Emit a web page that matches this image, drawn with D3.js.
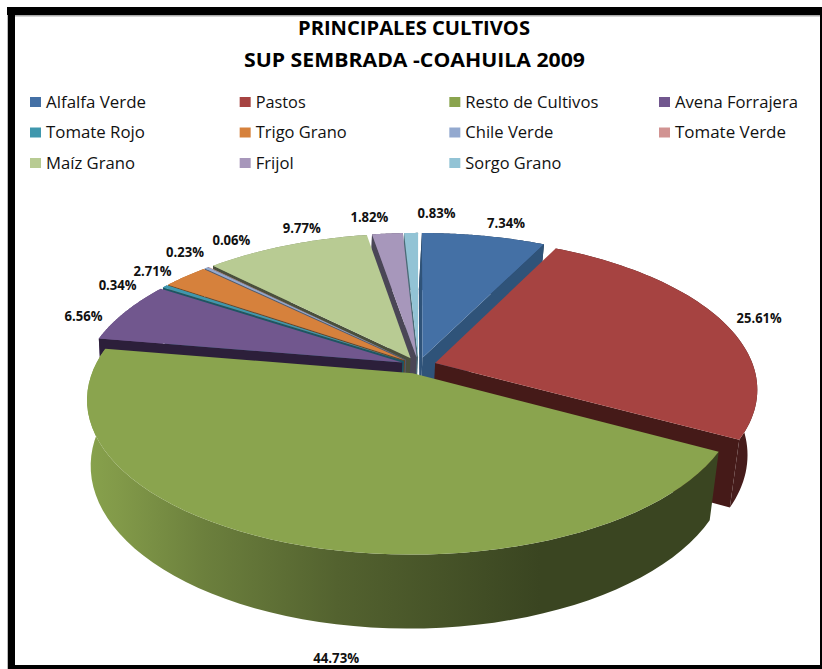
<!DOCTYPE html>
<html><head><meta charset="utf-8">
<script src="https://cdn.jsdelivr.net/npm/d3@7"></script>
<style>html,body{margin:0;padding:0;background:#fff}svg{display:block}</style>
</head><body><div id="chart"></div>
<script>
const titleLines = ["PRINCIPALES CULTIVOS", "SUP SEMBRADA -COAHUILA 2009"];
const categories = ["Alfalfa Verde","Pastos","Resto de Cultivos","Avena Forrajera","Tomate Rojo","Trigo Grano","Chile Verde","Tomate Verde","Maíz Grano","Frijol","Sorgo Grano"];
const shares = [7.34,25.61,44.73,6.56,0.34,2.71,0.23,0.06,9.77,1.82,0.83];
const colors = ["#4470a5","#a64341","#8aa44e","#71578e","#3f97ad","#d6813c","#93a9cf","#d19392","#b8cb93","#a797bb","#92c3d5"];
const wallColors = ["#2f5379","#451a18","#37421d","#2c1f3a","#1d5563","#6e4420","#4d5a70","#555048","#4a4f3c","#4a4656","#4a6a76"];
const labelTextWidths = [38,45,46,38,38,38,38,38,38,38,38];
const legendTextWidths = [100,50,133,123,99,91,88,111,89,38,96];

const W=822,H=669;
const svg=d3.select("#chart").append("svg").attr("width",W).attr("height",H);
const defs=svg.append("defs");
const font="'Open Sans','Noto Sans',sans-serif";

// frame
svg.append("rect").attr("x",7).attr("y",7).attr("width",W-7).attr("height",H-7).attr("fill","#000");
svg.append("rect").attr("x",7).attr("y",15).attr("width",1).attr("height",H-15).attr("fill","#bbb");
svg.append("rect").attr("x",15).attr("y",15).attr("width",805).attr("height",650).attr("fill","#fff");
svg.append("rect").attr("x",15).attr("y",15).attr("width",805).attr("height",1.5).attr("fill","#aaa");

// title
const titleBox=[{cy:28,w:232,cx:414},{cy:60,w:341,cx:414.5}];
svg.selectAll("text.title").data(titleLines).join("text").attr("class","title")
 .attr("x",(d,i)=>titleBox[i].cx).attr("y",(d,i)=>titleBox[i].cy+7).attr("text-anchor","middle")
 .attr("textLength",(d,i)=>titleBox[i].w).attr("lengthAdjust","spacingAndGlyphs")
 .attr("font-family",font).attr("font-weight",700).attr("font-size",20).attr("fill","#000").text(d=>d);

// legend
const colX=d3.scalePoint().domain([0,1,2,3]).range([30,659]);
const rowY=d3.scalePoint().domain([0,1,2]).range([102,163]);
const lg=svg.selectAll("g.lg").data(categories).join("g").attr("class","lg")
 .attr("transform",(d,i)=>`translate(${colX(i%4)},${rowY(Math.floor(i/4))})`);
lg.append("rect").attr("x",0).attr("y",-5).attr("width",11).attr("height",10).attr("fill",(d,i)=>colors[i]);
lg.append("text").attr("x",16).attr("y",5.5).attr("font-family",font).attr("font-size",16).attr("fill","#111")
 .attr("textLength",(d,i)=>legendTextWidths[i]).attr("lengthAdjust","spacingAndGlyphs").text(d=>d);

// perspective model of the 3D pie
const cx=418.5,cy=365.5,B=318,A=148,P=0.168,EXP=0.055,SHRINK=0.98,D=64,SHIFT=-3;
function proj(th,r,bis,bottom){
  const u=r*Math.sin(th)+EXP*Math.sin(bis), v=-r*Math.cos(th)-EXP*Math.cos(bis);
  const w=1/(1-P*v), s=bottom?SHRINK:1;
  return [cx+B*u*w*s+(bottom?SHIFT:0), cy+A*v*w*s+(bottom?D*w:0)];
}
const pie=d3.pie().sort(null).value(d=>d);
const arcs=pie(shares).map((a,i)=>({...a,i,bis:(a.startAngle+a.endAngle)/2}));
const line=d3.line();
const arcPts=(a,bottom)=>d3.range(0,61).map(k=>{const t=a.startAngle+(a.endAngle-a.startAngle)*k/60;return proj(t,1,a.bis,bottom)});

arcs.forEach(a=>{
  const base=d3.rgb(colors[a.i]);
  const g=defs.append("linearGradient").attr("id","g"+a.i).attr("gradientUnits","userSpaceOnUse")
    .attr("x1",90).attr("x2",540).attr("y1",0).attr("y2",0);
  [[0,.98],[0.06,.94],[0.25,.78],[0.55,.6],[1,.42]].forEach(([o,f])=>g.append("stop").attr("offset",o)
    .attr("stop-color",d3.rgb(base.r*f,base.g*f,base.b*f)));
});
const order=arcs.slice().sort((a,b)=>(-Math.cos(a.bis))-(-Math.cos(b.bis)));
const sl=svg.selectAll("g.sl").data(order).join("g").attr("class","sl");
sl.each(function(a){
  const g=d3.select(this);
  const top=arcPts(a,false),bot=arcPts(a,true);
  const c0=proj(0,0,a.bis,false),c1=proj(0,0,a.bis,true);
  g.append("path").attr("d",line(top.concat(bot.slice().reverse()))+"Z").attr("fill",`url(#g${a.i})`);
  // radial walls: keep only the ones that face the viewer
  [[[c0,top[0],bot[0],c1],1],[[c0,top[60],bot[60],c1],-1]].forEach(([q,sign])=>{
    if(d3.polygonArea(q)*sign>0) g.append("path").attr("d",line(q)+"Z").attr("fill",wallColors[a.i]);
  });
  g.append("path").attr("d",line([c0].concat(top))+"Z").attr("fill",colors[a.i]);
});

// labels
const labelR=1.08;
const labelNudge=[[18,-5],[15,0],[62,99],[-21,8],[-30,4],[-17,1],[-7,-9],[37,-21],[24,-10],[-16,-8],[26,-11]];
svg.selectAll("text.val").data(arcs).join("text").attr("class","val")
 .attr("transform",a=>{const p=proj(a.bis,labelR,a.bis,false);return `translate(${p[0]+labelNudge[a.i][0]},${p[1]+labelNudge[a.i][1]+5})`})
 .attr("text-anchor","middle").attr("font-family",font).attr("font-weight",700).attr("font-size",13.5).attr("fill","#111")
 .attr("textLength",a=>labelTextWidths[a.i]).attr("lengthAdjust","spacingAndGlyphs")
 .text(a=>shares[a.i].toFixed(2)+"%");
</script></body></html>
